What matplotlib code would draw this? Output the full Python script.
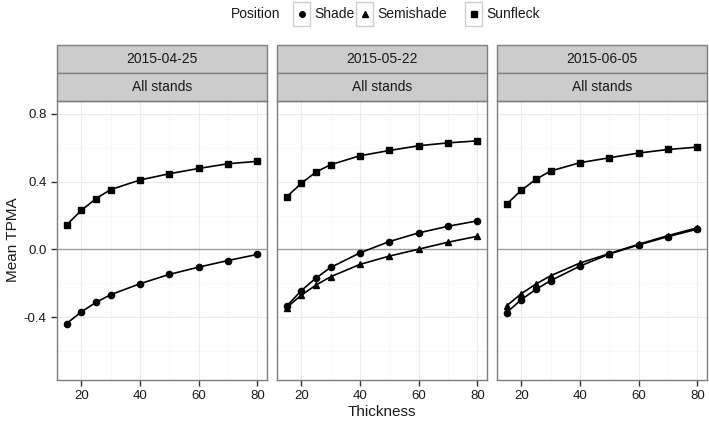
import numpy as np
import matplotlib
matplotlib.use("Agg")
import matplotlib.pyplot as plt
from matplotlib.patches import Rectangle
from matplotlib.lines import Line2D

plt.rcParams["font.family"] = ["Liberation Sans", "DejaVu Sans"]

# datos
thickness = [15, 20, 25, 30, 40, 50, 60, 70, 80]
dates = ["2015-04-25", "2015-05-22", "2015-06-05"]

shade = {
    "2015-04-25": [-0.437, -0.369, -0.312, -0.267, -0.202, -0.147, -0.104, -0.065, -0.029],
    "2015-05-22": [-0.335, -0.243, -0.169, -0.106, -0.020, 0.047, 0.098, 0.137, 0.169],
    "2015-06-05": [-0.373, -0.296, -0.235, -0.184, -0.098, -0.027, 0.027, 0.076, 0.120],
}
semishade = {
    "2015-05-22": [-0.343, -0.270, -0.210, -0.161, -0.088, -0.039, 0.002, 0.043, 0.078],
    "2015-06-05": [-0.333, -0.261, -0.204, -0.155, -0.080, -0.024, 0.031, 0.082, 0.128],
}
sunfleck = {
    "2015-04-25": [0.145, 0.230, 0.300, 0.353, 0.410, 0.447, 0.478, 0.506, 0.520],
    "2015-05-22": [0.310, 0.390, 0.457, 0.500, 0.553, 0.584, 0.612, 0.629, 0.641],
    "2015-06-05": [0.267, 0.349, 0.414, 0.463, 0.512, 0.541, 0.569, 0.590, 0.604],
}

series = [("Shade", shade, "o", 4.5), ("Semishade", semishade, "^", 5.0),
          ("Sunfleck", sunfleck, "s", 4.8)]

W, H = 709, 422
fig = plt.figure(figsize=(W / 100, H / 100), dpi=100)

lefts = [57, 277, 497]
pw = 210
top, bottom = 101, 380
strip_h = 28
txt = "#1a1a1a"
border = "#7f7f7f"

for i, d in enumerate(dates):
    ax = fig.add_axes([lefts[i] / W, 1 - bottom / H, pw / W, (bottom - top) / H])
    ax.set_xlim(11.75, 83.25)
    ax.set_ylim(-0.77, 0.876)
    ax.set_xticks([20, 40, 60, 80])
    ax.set_xticks([30, 50, 70], minor=True)
    ax.set_yticks([-0.4, 0.0, 0.4, 0.8])
    ax.set_yticks([-0.6, -0.2, 0.2, 0.6], minor=True)
    ax.grid(True, which="major", color="#ebebeb", linewidth=0.8)
    ax.grid(True, which="minor", color="#f7f7f7", linewidth=0.6)
    ax.set_axisbelow(True)
    ax.axhline(0, color="#a0a0a0", linewidth=1.0, zorder=1)
    for s in ax.spines.values():
        s.set_color(border)
        s.set_linewidth(1.0)
    ax.tick_params(which="minor", length=0)
    ax.tick_params(which="major", direction="out", length=4, width=1.0,
                   color="#333333", labelsize=9.5, labelcolor=txt)
    if i == 0:
        ax.set_yticklabels(["-0.4", "0.0", "0.4", "0.8"])
    else:
        ax.tick_params(axis="y", which="both", left=False, labelleft=False)

    for name, data, mk, ms in series:
        if d in data:
            ax.plot(thickness, data[d], color="black", linewidth=1.2,
                    marker=mk, markersize=ms, zorder=3)

    # tiras de faceta
    hh = strip_h / (bottom - top)
    for k, lab in enumerate([d, "All stands"]):
        y0 = 1 + (1 - k) * hh
        ax.add_patch(Rectangle((0, y0), 1, hh, transform=ax.transAxes,
                               facecolor="#cccccc", edgecolor=border,
                               linewidth=1.0, clip_on=False))
        ax.text(0.5, y0 + hh / 2, lab, transform=ax.transAxes, ha="center",
                va="center", fontsize=10, color=txt)

fig.text(382 / W, 1 - 412 / H, "Thickness", ha="center", va="center",
         fontsize=11, color=txt)
fig.text(13 / W, 1 - 240 / H, "Mean TPMA", ha="center", va="center",
         rotation=90, fontsize=11, color=txt)

# leyenda
ly = 1 - 14 / H
fig.text(231 / W, ly, "Position", ha="left", va="center", fontsize=10, color=txt)
keys = [(293, "Shade", "o", 4.0), (356, "Semishade", "^", 4.5),
        (465, "Sunfleck", "s", 4.2)]
for x0, lab, mk, ms in keys:
    fig.add_artist(Rectangle((x0 / W, 1 - 26 / H), 17 / W, 24 / H,
                             transform=fig.transFigure, facecolor="white",
                             edgecolor="#cfcfcf", linewidth=1.0))
    fig.add_artist(Line2D([(x0 + 8.5) / W], [ly], marker=mk, markersize=ms,
                          color="black", transform=fig.transFigure))
    fig.text((x0 + 21) / W, ly, lab, ha="left", va="center", fontsize=10,
             color=txt)

fig.savefig("out.png", dpi=100)
